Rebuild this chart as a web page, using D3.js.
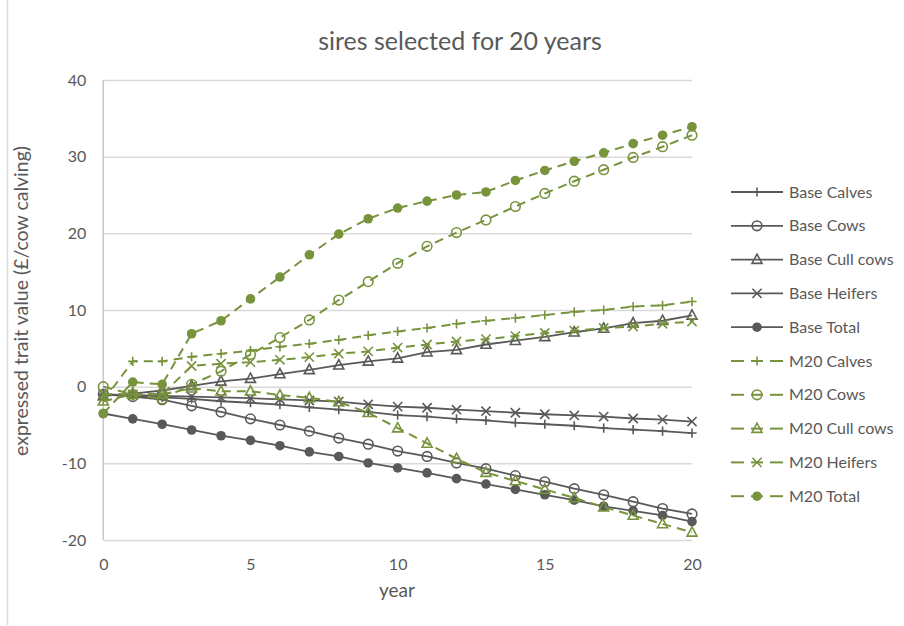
<!DOCTYPE html>
<html><head><meta charset="utf-8">
<script src="https://cdn.jsdelivr.net/npm/d3@7"></script>
<style>body{margin:0;background:#fff;} text{font-family:Lato,"Open Sans",sans-serif;}</style>
</head><body>
<svg id="c" width="904" height="626"></svg>
<script>
const years = d3.range(0, 21);
const baseCalves = [-1.0,-1.2,-1.4,-1.6,-1.9,-2.1,-2.35,-2.7,-3.0,-3.3,-3.7,-3.9,-4.2,-4.4,-4.7,-4.9,-5.1,-5.4,-5.6,-5.8,-6.05];
const baseCows = [-1.0,-1.3,-1.7,-2.5,-3.3,-4.2,-5.0,-5.8,-6.7,-7.5,-8.4,-9.1,-9.95,-10.7,-11.6,-12.4,-13.3,-14.1,-15.0,-15.9,-16.6];
const baseCull = [-1.2,-0.9,-0.5,0.1,0.7,1.05,1.65,2.2,2.8,3.3,3.7,4.5,4.8,5.5,6.0,6.5,7.1,7.6,8.3,8.6,9.3];
const baseHeifers = [-1.0,-1.1,-1.2,-1.3,-1.4,-1.5,-1.65,-1.8,-1.95,-2.3,-2.6,-2.75,-3.0,-3.2,-3.4,-3.6,-3.75,-3.9,-4.15,-4.3,-4.55];
const baseTotal = [-3.5,-4.2,-4.9,-5.65,-6.4,-7.0,-7.7,-8.5,-9.1,-9.95,-10.6,-11.25,-12.0,-12.7,-13.4,-14.1,-14.8,-15.6,-16.2,-16.8,-17.6];
const m20Calves = [-1.8,3.3,3.3,3.9,4.3,4.7,5.2,5.6,6.1,6.7,7.2,7.65,8.2,8.6,8.95,9.35,9.75,10.0,10.45,10.6,11.1];
const m20Cows = [0.0,-1.0,-1.6,0.3,2.0,4.2,6.4,8.7,11.3,13.7,16.1,18.3,20.1,21.75,23.5,25.2,26.8,28.3,29.9,31.3,32.8];
const m20Cull = [-1.9,-1.0,-1.0,-0.2,-0.6,-0.6,-1.1,-1.45,-2.0,-3.4,-5.4,-7.4,-9.4,-11.2,-12.3,-13.4,-14.5,-15.7,-16.8,-17.9,-19.0];
const m20Heifers = [-1.0,-1.0,-1.0,2.7,3.0,3.2,3.5,3.85,4.3,4.6,5.1,5.5,5.9,6.2,6.6,7.0,7.3,7.65,7.85,8.2,8.5];
const m20Total = [-3.5,0.6,0.3,6.9,8.6,11.45,14.3,17.2,19.9,21.9,23.3,24.2,25.0,25.4,26.9,28.2,29.4,30.5,31.7,32.8,33.9];
const yTicks = [-20,-10,0,10,20,30,40];
const xTicks = [0,5,10,15,20];
const seriesNames = ["Base Calves","Base Cows","Base Cull cows","Base Heifers","Base Total","M20 Calves","M20 Cows","M20 Cull cows","M20 Heifers","M20 Total"];
const seriesData = [baseCalves,baseCows,baseCull,baseHeifers,baseTotal,m20Calves,m20Cows,m20Cull,m20Heifers,m20Total];
const markerTypes = ["plus","circle","triangle","cross","dot","plus","circle","triangle","cross","dot"];

const DARK = "#595959", GREEN = "#77933c", TXT = "#595959";
const svg = d3.select("#c");
const x = d3.scaleLinear().domain([0,20]).range([103.3,692]);
const y = d3.scaleLinear().domain([-20,40]).range([540,80]);

svg.append("line").attr("x1",7.5).attr("x2",7.5).attr("y1",0).attr("y2",625).attr("stroke","#d9d9d9").attr("stroke-width",1.5);

svg.append("text").attr("x",460).attr("y",50).attr("text-anchor","middle").attr("font-size",25).attr("fill",TXT).text("sires selected for 20 years");

const gy = svg.append("g").attr("transform","translate(103.3,0)")
  .call(d3.axisLeft(y).tickValues(yTicks).tickSize(-(692-103.3)).tickFormat(d=>String(d)));
gy.select(".domain").remove();
gy.selectAll(".tick line").attr("stroke","#d9d9d9").attr("stroke-width",1.5);
gy.selectAll(".tick text").attr("x",-17).attr("font-size",16).attr("fill",TXT).style("font-family","Lato");
svg.append("line").attr("x1",103.3).attr("x2",103.3).attr("y1",80).attr("y2",540).attr("stroke","#c8c8c8").attr("stroke-width",1.5);

const gx = svg.append("g").attr("transform","translate(0,540)")
  .call(d3.axisBottom(x).tickValues(xTicks).tickSize(0).tickFormat(d=>String(d)));
gx.select(".domain").remove();
gx.selectAll(".tick text").attr("dy",0).attr("y",30).attr("font-size",16).attr("fill",TXT).style("font-family","Lato");

svg.append("text").attr("x",397).attr("y",597).attr("text-anchor","middle").attr("font-size",19).attr("fill",TXT).text("year");
svg.append("text").attr("transform","translate(28,301) rotate(-90)").attr("text-anchor","middle").attr("font-size",19.5).attr("fill",TXT).text("expressed trait value (£/cow calving)");

function drawMarker(g, type, cx, cy, color){
  const s = 4.6;
  if(type==="plus"){
    g.append("path").attr("d",`M${cx-s},${cy}H${cx+s}M${cx},${cy-s}V${cy+s}`).attr("stroke",color).attr("stroke-width",1.6).attr("fill","none");
  } else if(type==="cross"){
    g.append("path").attr("d",`M${cx-s},${cy-s}L${cx+s},${cy+s}M${cx-s},${cy+s}L${cx+s},${cy-s}`).attr("stroke",color).attr("stroke-width",1.6).attr("fill","none");
  } else if(type==="circle"){
    g.append("circle").attr("cx",cx).attr("cy",cy).attr("r",4.8).attr("stroke",color).attr("stroke-width",1.6).attr("fill","none");
  } else if(type==="dot"){
    g.append("circle").attr("cx",cx).attr("cy",cy).attr("r",4.8).attr("fill",color);
  } else if(type==="triangle"){
    g.append("path").attr("d",`M${cx},${cy-5.5}L${cx+5},${cy+3.8}L${cx-5},${cy+3.8}Z`).attr("stroke",color).attr("stroke-width",1.6).attr("fill","none");
  }
}

const line = d3.line().x((d,i)=>x(years[i])).y(d=>y(d));
seriesData.forEach((vals,k)=>{
  const isM = k>=5;
  const col = isM?GREEN:DARK;
  const g = svg.append("g");
  g.append("path").datum(vals).attr("d",line).attr("fill","none").attr("stroke",col)
    .attr("stroke-width",isM?2:1.8).attr("stroke-dasharray",isM?"9,6":null);
  vals.forEach((v,i)=>drawMarker(g, markerTypes[k], x(years[i]), y(v), col));
});

const lg = svg.append("g");
seriesNames.forEach((n,k)=>{
  const isM = k>=5;
  const col = isM?GREEN:DARK;
  const ly = 192 + k*33.8;
  if(isM){
    lg.append("line").attr("x1",731).attr("x2",744).attr("y1",ly).attr("y2",ly).attr("stroke",col).attr("stroke-width",2);
    lg.append("line").attr("x1",770).attr("x2",783).attr("y1",ly).attr("y2",ly).attr("stroke",col).attr("stroke-width",2);
    lg.append("line").attr("x1",751).attr("x2",763).attr("y1",ly).attr("y2",ly).attr("stroke",col).attr("stroke-width",2);
  } else {
    lg.append("line").attr("x1",731).attr("x2",783).attr("y1",ly).attr("y2",ly).attr("stroke",col).attr("stroke-width",1.8);
  }
  drawMarker(lg, markerTypes[k], 757, ly, col);
  lg.append("text").attr("x",789).attr("y",ly+5.5).attr("font-size",16).attr("fill",TXT).text(n);
});
</script>
</body></html>
